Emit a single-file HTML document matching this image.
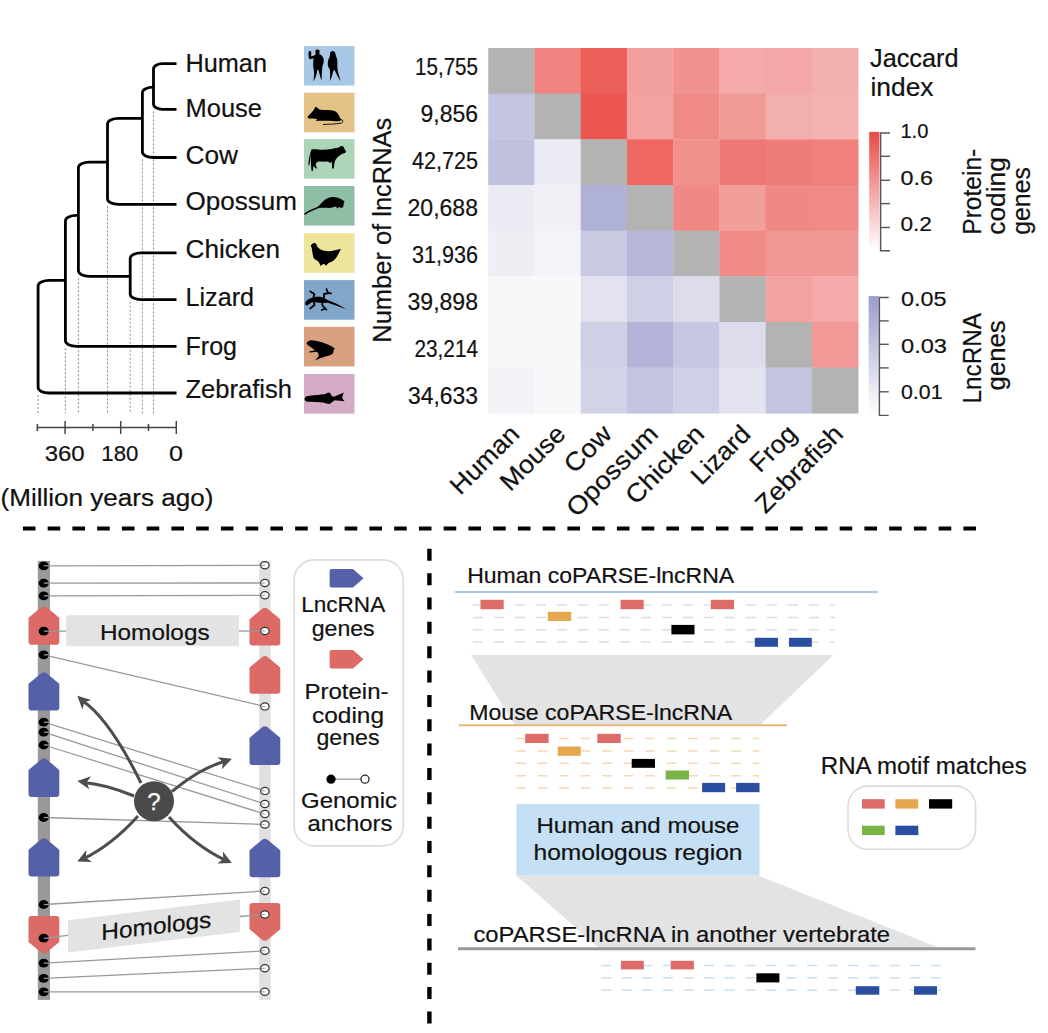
<!DOCTYPE html><html><head><meta charset="utf-8"><style>
html,body{margin:0;padding:0;background:#fff;width:1048px;height:1033px;overflow:hidden}
svg{display:block}
text{font-family:"Liberation Sans", sans-serif;fill:#111;stroke:#111;stroke-width:0.2px}
</style></head><body>
<svg width="1048" height="1033" viewBox="0 0 1048 1033">
<line x1="38.1" y1="395.0" x2="38.1" y2="413.5" stroke="#8a8a8a" stroke-width="1" stroke-dasharray="2,2"/>
<line x1="65.4" y1="348.3" x2="65.4" y2="413.5" stroke="#8a8a8a" stroke-width="1" stroke-dasharray="2,2"/>
<line x1="78.4" y1="278.3" x2="78.4" y2="413.5" stroke="#8a8a8a" stroke-width="1" stroke-dasharray="2,2"/>
<line x1="107.5" y1="206.4" x2="107.5" y2="413.5" stroke="#8a8a8a" stroke-width="1" stroke-dasharray="2,2"/>
<line x1="130.2" y1="301.7" x2="130.2" y2="413.5" stroke="#8a8a8a" stroke-width="1" stroke-dasharray="2,2"/>
<line x1="142.4" y1="159.5" x2="142.4" y2="413.5" stroke="#8a8a8a" stroke-width="1" stroke-dasharray="2,2"/>
<line x1="153.5" y1="111.4" x2="153.5" y2="413.5" stroke="#8a8a8a" stroke-width="1" stroke-dasharray="2,2"/>
<path d="M176.5,63.6 H162.5 C157.53,63.6 153.5,66.06 153.5,69.1 V103.9 C153.5,106.94 157.53,109.4 162.5,109.4 H176.5" fill="none" stroke="#000" stroke-width="2.8"/>
<path d="M153.5,87.2 H153.4 C147.32,87.2 142.4,89.66 142.4,92.7 V152.0 C142.4,155.04 147.32,157.5 153.4,157.5 H176.5" fill="none" stroke="#000" stroke-width="2.8"/>
<path d="M142.4,118.4 H118.5 C112.42,118.4 107.5,120.86 107.5,123.9 V198.9 C107.5,201.94 112.42,204.4 118.5,204.4 H176.5" fill="none" stroke="#000" stroke-width="2.8"/>
<path d="M176.5,252.8 H141.2 C135.12,252.8 130.2,255.26 130.2,258.3 V294.2 C130.2,297.24 135.12,299.7 141.2,299.7 H176.5" fill="none" stroke="#000" stroke-width="2.8"/>
<path d="M107.5,162.2 H89.4 C83.32,162.2 78.4,164.66 78.4,167.7 V270.8 C78.4,273.84 83.32,276.3 89.4,276.3 H130.2" fill="none" stroke="#000" stroke-width="2.8"/>
<path d="M78.4,215.4 H76.4 C70.32,215.4 65.4,217.86 65.4,220.9 V340.8 C65.4,343.84 70.32,346.3 76.4,346.3 H176.5" fill="none" stroke="#000" stroke-width="2.8"/>
<path d="M65.4,280.4 H49.1 C43.02,280.4 38.1,282.86 38.1,285.9 V387.5 C38.1,390.54 43.02,393.0 49.1,393.0 H176.5" fill="none" stroke="#000" stroke-width="2.8"/>
<g stroke="#444" stroke-width="1.5" fill="none">
<line x1="37.3" y1="427.6" x2="176.3" y2="427.6"/>
<line x1="37.3" y1="424" x2="37.3" y2="431"/>
<line x1="65.1" y1="421" x2="65.1" y2="434"/>
<line x1="92.9" y1="424" x2="92.9" y2="431"/>
<line x1="120.7" y1="421" x2="120.7" y2="434"/>
<line x1="148.5" y1="424" x2="148.5" y2="431"/>
<line x1="176.3" y1="421" x2="176.3" y2="434"/>
</g>
<text x="64.7" y="461" font-size="22" text-anchor="middle" textLength="40" lengthAdjust="spacingAndGlyphs" >360</text>
<text x="119.8" y="461" font-size="22" text-anchor="middle" textLength="37" lengthAdjust="spacingAndGlyphs" >180</text>
<text x="176" y="461" font-size="22" text-anchor="middle" textLength="14" lengthAdjust="spacingAndGlyphs" >0</text>
<text x="0.5" y="505.5" font-size="23.5" text-anchor="start" textLength="213" lengthAdjust="spacingAndGlyphs" >(Million years ago)</text>
<text x="185.5" y="71.7" font-size="26" text-anchor="start" textLength="81.5" lengthAdjust="spacingAndGlyphs" >Human</text>
<text x="185.5" y="117" font-size="26" text-anchor="start" textLength="76.5" lengthAdjust="spacingAndGlyphs" >Mouse</text>
<text x="185.5" y="164" font-size="26" text-anchor="start" textLength="52.5" lengthAdjust="spacingAndGlyphs" >Cow</text>
<text x="185.5" y="209.8" font-size="26" text-anchor="start" textLength="111.5" lengthAdjust="spacingAndGlyphs" >Opossum</text>
<text x="185.5" y="258.2" font-size="26" text-anchor="start" textLength="94.5" lengthAdjust="spacingAndGlyphs" >Chicken</text>
<text x="185.5" y="306.3" font-size="26" text-anchor="start" textLength="68.5" lengthAdjust="spacingAndGlyphs" >Lizard</text>
<text x="185.5" y="354.5" font-size="26" text-anchor="start" textLength="51.5" lengthAdjust="spacingAndGlyphs" >Frog</text>
<text x="185.5" y="398.1" font-size="26" text-anchor="start" textLength="106.5" lengthAdjust="spacingAndGlyphs" >Zebrafish</text>
<rect x="304" y="46" width="50.5" height="39.6" fill="#a7c9e5"/>
<g transform="translate(304,46)" fill="#000"><path d="M13.6,3.4 C15.3,3.4 16,4.6 15.6,6 C15.4,7 15,7.5 15.5,8 C17.8,9 19.8,11.5 19.8,14.5 C19.8,17 18.8,19 18.3,21 C17.9,25 17.8,30 17.6,34.5 C16.5,32 15.6,28 14.6,24.5 C14.2,23.2 13.6,23.2 13.3,24.5 C12.6,28 11.8,32 9.3,35.5 C10.3,31 10.3,26 9.5,22.5 C9,19.5 9,15 9.6,12 C8.5,12.5 7,13.5 5.6,13.2 C4.6,12.5 4.5,9 4.5,7 C4.5,5.4 5.2,4.8 6,4.9 C7.2,5 7.5,6 7.3,7.3 C7,8.5 7,9.8 7.5,10.2 C9,10 10.5,9.5 11.8,8.2 C11.5,7.5 11.2,6.5 11.3,5.3 C11.5,4 12.3,3.4 13.6,3.4 Z"/><path d="M28.6,4.9 C30.5,4.9 31.4,6.5 31.6,8.5 C31.8,9.8 32.5,11 33,12.8 C33.6,15 33.5,18 33.3,21 C33.5,25 35,30 36.8,35 C35,33.5 33,29 31,25 C30.5,24 30,23.5 29.5,24.5 C28.5,27.5 28,31 25.8,35.3 C26.2,31 26.5,26 25.5,22.5 C24.3,22 23.8,20 23.8,18 C23.8,15 24.3,13 25.6,11 C26,10 26,9 26,7.8 C26.2,5.8 27.3,4.9 28.6,4.9 Z"/></g>
<rect x="304" y="92.7" width="50.5" height="39.6" fill="#e3c287"/>
<g transform="translate(304,92)" fill="#000"><path d="M3.6,24.8 C6,22 9,19.5 10.5,16.5 C11,15 12,14.8 13,15.5 C14,16.3 15,17.5 16.5,17.8 C20,18 26,18 30,18.8 C33,19.5 34.5,22.5 35.5,25 C36,26.5 37.5,27 38,28 C36,29.5 33,29.3 29,29 C24,28.8 18,28.8 14.5,28.8 C13,29 12,29 11.8,28.6 C12.5,28 13,27.5 13.3,27.2 C10.5,26.5 8,26.5 5.5,26.5 C4,26.4 3.2,25.5 3.6,24.8 Z"/><path d="M37.3,27.5 C39.5,28.5 39.5,30.5 37,31.2 C32,32 25,32.3 19,32.5" fill="none" stroke="#000" stroke-width="0.9"/></g>
<rect x="304" y="139.1" width="50.5" height="39.6" fill="#acd4b7"/>
<g transform="translate(304,139)" fill="#000"><path d="M7.6,10.5 C10,9.8 15,10.8 19,10.8 C25,10.5 30,9.5 34,8.8 C35.5,8 36.5,7 38,7 C39.5,7.2 40,8.5 40.5,10 C41,11 42.3,12 42,13 C41,14 39.5,14.5 38.2,15 C36,16 34,17.5 32.5,19.5 C31,21 30.8,23 30.3,25 C30,27 30,28.5 29.8,29.6 L28.2,29.6 C28,27 28,24.5 27.7,22.8 C27,23.5 26.5,24 25.8,24 C25,23 24,22.5 22.5,22.6 C20,22.8 17,22.3 14.5,22.5 C13,23 12,24 11.6,25.3 C12,27 12.5,28.3 13.2,29.4 L11.8,29.6 C11,28.5 10.2,27.3 9.6,26.5 C9.3,28.5 9.2,30.5 8.8,32.2 L7.5,31.5 C7.2,29 7,25 6.8,21 C6.7,18.5 6.8,16 7,14 C6.5,17 6,22 5.4,26.3 L4.4,26 C4.6,22 5,18 6,15.5 C6.5,13 7,11.5 7.6,10.5 Z"/></g>
<rect x="304" y="186" width="50.5" height="39.6" fill="#8fbea7"/>
<g transform="translate(304,186)" fill="#000"><path d="M0,28 C3,25 7,23.5 11,22 C14,20.8 16.5,18.5 19,15.5 C22,12.5 25,11 29,11 C33,11 36.5,12.5 39,14.5 L40.8,15.3 C40,16 39.6,17 39.7,18.5 C39.5,20.5 38.5,22 37.5,22 C36.5,22 35.8,21.5 35.2,20.8 C34.5,21.5 34,22.3 33.5,22.5 C33,21.8 32,21 31,20.6 C29.5,21.5 27.5,22 25.5,22 C22,21.8 18,21.8 15,22 C11,23.3 6,25.5 0.8,29 Z"/></g>
<rect x="304" y="233.2" width="50.5" height="39.6" fill="#ede59c"/>
<g transform="translate(304,233)" fill="#000"><path d="M6.9,12.3 C7.5,11 9,10 10.5,10 C11.8,10 12.5,10.8 12.8,12.5 C13.5,14.5 15.5,16.3 19,17.5 C23,18.5 27,18.5 30,17.5 C32.5,16.8 35,16 37,16.2 C35.5,18.5 34.5,21 33,23.5 C31.5,26 29.5,27.8 27.5,28.8 C25,29.8 23.5,30.5 22.3,32.8 C21.5,32 20.5,31 19.5,31 C18.5,31.2 17.5,32 16.5,33 C16,31 15,29 13.8,28 C12,27 10,26 9.4,24.5 C8.8,22 8.3,19 8,16.5 C7.8,15 7.5,13.8 6.9,13.2 Z"/></g>
<rect x="304" y="280.1" width="50.5" height="39.6" fill="#80a7ca"/>
<g transform="translate(304,280)" fill="#000"><path d="M1.2,23.5 C1.5,21 3.5,19.5 6,18.5 C9,17 13,16.5 16,16.8 C19,17.2 21,18.5 23.5,20 C29,22 36,25 42,29.3 C36,27 29,24.5 24,22.8 C21.5,22.5 19.5,22.8 17.5,23 C14,22.5 10.5,22.2 8,22.3 C6,23 4.5,25 2.5,25.6 C1.6,25.3 1.2,24.5 1.2,23.5 Z"/><g fill="none" stroke="#000" stroke-width="1.8" stroke-linecap="round" stroke-linejoin="round"><path d="M9.5,17.2 L10.5,14 L6.2,11.5"/><path d="M20,18 L20,14 L24.3,13.2"/><path d="M22.5,9.2 L24,13 L27,13.4"/><path d="M18.5,22.5 L18.2,25 L21,28.5 L17.8,30"/><path d="M21,28.5 L22.4,29.6"/><path d="M10,22.5 L10.5,25 L6.2,28.5"/></g></g>
<rect x="304" y="326.8" width="50.5" height="39.6" fill="#d9a080"/>
<g transform="translate(304,327)" fill="#000"><path d="M2.6,16.2 C3.5,14 5.5,13.3 7.5,13.3 C11,13.5 14,14.2 17,15 C20,16 23.5,17.2 26,18.5 C28,19.5 29.5,20.5 30.8,21.5 C29.8,22.5 29.5,24 29.3,25.5 C29,27 27,28 25,28.5 C21.5,29.5 18,30.5 15.5,31.5 C14,32.3 12.5,33 11.3,33.5 C12.5,31.5 14,30 14.8,29 C14.5,27.5 14.3,26.5 14,25.5 C12.5,24.5 11.5,24.5 10.5,25 C9,25.3 6.5,25.5 4.5,25.3 C5.5,24.5 6.5,24 7.5,24 C8.8,24 10,23.5 10.8,23.3 C9.5,22 7.5,20.5 5.5,19.2 C4,18.3 2.8,17.3 2.6,16.2 Z"/></g>
<rect x="304" y="374" width="50.5" height="39.6" fill="#d3abc4"/>
<g transform="translate(304,374)" fill="#000"><path d="M0.5,24.8 C1,22.5 3,22 6,21.7 C11,21.2 16,20.8 20,20.3 C22,19.8 23.5,18.4 25,18.4 C26.5,18.6 27,20.5 27.5,21.8 C28.5,22.7 29.5,22.8 30.5,22.5 C33.5,21.2 37,19.5 40,18.4 C39.2,20 38.3,21.8 38.3,23.4 C38.5,25 40,26.2 40.6,27.3 C37.5,27.3 34,26.5 30.5,26.3 C29,27.5 27,29.5 25.5,30 C23.5,30 21.5,29 19,28.5 C14,28 8,28 3.5,27.8 C1.5,27.5 0.5,26.2 0.5,24.8 Z"/></g>
<rect x="488.20" y="48.00" width="46.55" height="45.96" fill="#b3b3b3"/>
<rect x="534.45" y="48.00" width="46.55" height="45.96" fill="#ef8380"/>
<rect x="580.70" y="48.00" width="46.55" height="45.96" fill="#ea6058"/>
<rect x="626.95" y="48.00" width="46.55" height="45.96" fill="#f2a09d"/>
<rect x="673.20" y="48.00" width="46.55" height="45.96" fill="#f09290"/>
<rect x="719.45" y="48.00" width="46.55" height="45.96" fill="#f3aaa9"/>
<rect x="765.70" y="48.00" width="46.55" height="45.96" fill="#f3a8a7"/>
<rect x="811.95" y="48.00" width="46.55" height="45.96" fill="#f3b0af"/>
<rect x="488.20" y="93.66" width="46.55" height="45.96" fill="#c4c5e1"/>
<rect x="534.45" y="93.66" width="46.55" height="45.96" fill="#b3b3b3"/>
<rect x="580.70" y="93.66" width="46.55" height="45.96" fill="#eb5650"/>
<rect x="626.95" y="93.66" width="46.55" height="45.96" fill="#f2a3a1"/>
<rect x="673.20" y="93.66" width="46.55" height="45.96" fill="#f08a87"/>
<rect x="719.45" y="93.66" width="46.55" height="45.96" fill="#f09a97"/>
<rect x="765.70" y="93.66" width="46.55" height="45.96" fill="#f3afae"/>
<rect x="811.95" y="93.66" width="46.55" height="45.96" fill="#f3b1b0"/>
<rect x="488.20" y="139.32" width="46.55" height="45.96" fill="#c0c1de"/>
<rect x="534.45" y="139.32" width="46.55" height="45.96" fill="#ebebf3"/>
<rect x="580.70" y="139.32" width="46.55" height="45.96" fill="#b3b3b3"/>
<rect x="626.95" y="139.32" width="46.55" height="45.96" fill="#ee6762"/>
<rect x="673.20" y="139.32" width="46.55" height="45.96" fill="#f0918e"/>
<rect x="719.45" y="139.32" width="46.55" height="45.96" fill="#ef7773"/>
<rect x="765.70" y="139.32" width="46.55" height="45.96" fill="#ef7c78"/>
<rect x="811.95" y="139.32" width="46.55" height="45.96" fill="#ef807c"/>
<rect x="488.20" y="184.98" width="46.55" height="45.96" fill="#ebebf4"/>
<rect x="534.45" y="184.98" width="46.55" height="45.96" fill="#f0f0f6"/>
<rect x="580.70" y="184.98" width="46.55" height="45.96" fill="#b0b1d6"/>
<rect x="626.95" y="184.98" width="46.55" height="45.96" fill="#b3b3b3"/>
<rect x="673.20" y="184.98" width="46.55" height="45.96" fill="#f08986"/>
<rect x="719.45" y="184.98" width="46.55" height="45.96" fill="#f29e9b"/>
<rect x="765.70" y="184.98" width="46.55" height="45.96" fill="#f08884"/>
<rect x="811.95" y="184.98" width="46.55" height="45.96" fill="#f08a87"/>
<rect x="488.20" y="230.64" width="46.55" height="45.96" fill="#eeeff5"/>
<rect x="534.45" y="230.64" width="46.55" height="45.96" fill="#f3f3f8"/>
<rect x="580.70" y="230.64" width="46.55" height="45.96" fill="#c9c9e2"/>
<rect x="626.95" y="230.64" width="46.55" height="45.96" fill="#b5b6d8"/>
<rect x="673.20" y="230.64" width="46.55" height="45.96" fill="#b3b3b3"/>
<rect x="719.45" y="230.64" width="46.55" height="45.96" fill="#f08b88"/>
<rect x="765.70" y="230.64" width="46.55" height="45.96" fill="#f09795"/>
<rect x="811.95" y="230.64" width="46.55" height="45.96" fill="#f09896"/>
<rect x="488.20" y="276.30" width="46.55" height="45.96" fill="#f8f8fb"/>
<rect x="534.45" y="276.30" width="46.55" height="45.96" fill="#f8f8fb"/>
<rect x="580.70" y="276.30" width="46.55" height="45.96" fill="#e2e2f0"/>
<rect x="626.95" y="276.30" width="46.55" height="45.96" fill="#cfd0e5"/>
<rect x="673.20" y="276.30" width="46.55" height="45.96" fill="#dcdcec"/>
<rect x="719.45" y="276.30" width="46.55" height="45.96" fill="#b3b3b3"/>
<rect x="765.70" y="276.30" width="46.55" height="45.96" fill="#f2a3a0"/>
<rect x="811.95" y="276.30" width="46.55" height="45.96" fill="#f3aaa9"/>
<rect x="488.20" y="321.96" width="46.55" height="45.96" fill="#f8f8fb"/>
<rect x="534.45" y="321.96" width="46.55" height="45.96" fill="#f8f8fb"/>
<rect x="580.70" y="321.96" width="46.55" height="45.96" fill="#cfd0e5"/>
<rect x="626.95" y="321.96" width="46.55" height="45.96" fill="#b3b4d7"/>
<rect x="673.20" y="321.96" width="46.55" height="45.96" fill="#c6c7e2"/>
<rect x="719.45" y="321.96" width="46.55" height="45.96" fill="#dcdcec"/>
<rect x="765.70" y="321.96" width="46.55" height="45.96" fill="#b3b3b3"/>
<rect x="811.95" y="321.96" width="46.55" height="45.96" fill="#f19996"/>
<rect x="488.20" y="367.62" width="46.55" height="45.96" fill="#f2f2f7"/>
<rect x="534.45" y="367.62" width="46.55" height="45.96" fill="#f8f8fb"/>
<rect x="580.70" y="367.62" width="46.55" height="45.96" fill="#d2d3e7"/>
<rect x="626.95" y="367.62" width="46.55" height="45.96" fill="#c4c5e1"/>
<rect x="673.20" y="367.62" width="46.55" height="45.96" fill="#cfd0e5"/>
<rect x="719.45" y="367.62" width="46.55" height="45.96" fill="#e2e2f0"/>
<rect x="765.70" y="367.62" width="46.55" height="45.96" fill="#c4c5e1"/>
<rect x="811.95" y="367.62" width="46.55" height="45.96" fill="#b3b3b3"/>
<text x="478" y="75.3" font-size="23.5" text-anchor="end" textLength="63" lengthAdjust="spacingAndGlyphs" >15,755</text>
<text x="478" y="122.25" font-size="23.5" text-anchor="end" textLength="57.5" lengthAdjust="spacingAndGlyphs" >9,856</text>
<text x="478" y="169.2" font-size="23.5" text-anchor="end" textLength="66" lengthAdjust="spacingAndGlyphs" >42,725</text>
<text x="478" y="216.15000000000003" font-size="23.5" text-anchor="end" textLength="70.5" lengthAdjust="spacingAndGlyphs" >20,688</text>
<text x="478" y="263.1" font-size="23.5" text-anchor="end" textLength="66" lengthAdjust="spacingAndGlyphs" >31,936</text>
<text x="478" y="310.05" font-size="23.5" text-anchor="end" textLength="70.5" lengthAdjust="spacingAndGlyphs" >39,898</text>
<text x="478" y="357.00000000000006" font-size="23.5" text-anchor="end" textLength="63.5" lengthAdjust="spacingAndGlyphs" >23,214</text>
<text x="478" y="403.95000000000005" font-size="23.5" text-anchor="end" textLength="70" lengthAdjust="spacingAndGlyphs" >34,633</text>
<text x="0" y="0" font-size="25" text-anchor="middle" textLength="225" lengthAdjust="spacingAndGlyphs" transform="translate(391.4,230.2) rotate(-90)">Number of lncRNAs</text>
<text x="0" y="0" font-size="25.5" text-anchor="end" textLength="85.575" lengthAdjust="spacingAndGlyphs" transform="translate(520.825,435.5) rotate(-45)">Human</text>
<text x="0" y="0" font-size="25.5" text-anchor="end" textLength="80.325" lengthAdjust="spacingAndGlyphs" transform="translate(567.075,435.5) rotate(-45)">Mouse</text>
<text x="0" y="0" font-size="25.5" text-anchor="end" textLength="55.125" lengthAdjust="spacingAndGlyphs" transform="translate(613.325,435.5) rotate(-45)">Cow</text>
<text x="0" y="0" font-size="25.5" text-anchor="end" textLength="117.075" lengthAdjust="spacingAndGlyphs" transform="translate(659.575,435.5) rotate(-45)">Opossum</text>
<text x="0" y="0" font-size="25.5" text-anchor="end" textLength="99.22500000000001" lengthAdjust="spacingAndGlyphs" transform="translate(705.825,435.5) rotate(-45)">Chicken</text>
<text x="0" y="0" font-size="25.5" text-anchor="end" textLength="71.925" lengthAdjust="spacingAndGlyphs" transform="translate(752.075,435.5) rotate(-45)">Lizard</text>
<text x="0" y="0" font-size="25.5" text-anchor="end" textLength="54.075" lengthAdjust="spacingAndGlyphs" transform="translate(798.325,435.5) rotate(-45)">Frog</text>
<text x="0" y="0" font-size="25.5" text-anchor="end" textLength="111.825" lengthAdjust="spacingAndGlyphs" transform="translate(844.575,435.5) rotate(-45)">Zebrafish</text>
<text x="870" y="67.2" font-size="25" text-anchor="start" textLength="88.5" lengthAdjust="spacingAndGlyphs" >Jaccard</text>
<text x="870.5" y="96.1" font-size="25" text-anchor="start" textLength="63" lengthAdjust="spacingAndGlyphs" >index</text>
<defs><linearGradient id="gr" x1="0" y1="0" x2="0" y2="1"><stop offset="0" stop-color="#e84a47"/><stop offset="1" stop-color="#e84a47" stop-opacity="0"/></linearGradient>
<linearGradient id="gb" x1="0" y1="0" x2="0" y2="1"><stop offset="0" stop-color="#9a9dcb"/><stop offset="1" stop-color="#9a9dcb" stop-opacity="0"/></linearGradient></defs>
<rect x="869.2" y="131.9" width="10.2" height="118.5" fill="url(#gr)"/>
<rect x="868.6" y="296.1" width="10.2" height="118" fill="url(#gb)"/>
<g stroke="#555" stroke-width="1.4" fill="none">
<path d="M890,133 H880.6 V250.8 H890"/>
<line x1="880.6" y1="156.3" x2="890" y2="156.3"/>
<line x1="880.6" y1="180.3" x2="890" y2="180.3"/>
<line x1="880.6" y1="203.6" x2="890" y2="203.6"/>
<line x1="880.6" y1="227.5" x2="890" y2="227.5"/>
<path d="M888.7,297.5 H879.4 V415.4 H888.7"/>
<line x1="879.4" y1="320.9" x2="888.7" y2="320.9"/>
<line x1="879.4" y1="344.3" x2="888.7" y2="344.3"/>
<line x1="879.4" y1="367.9" x2="888.7" y2="367.9"/>
<line x1="879.4" y1="391.8" x2="888.7" y2="391.8"/>
</g>
<text x="900.4" y="137.8" font-size="20.5" text-anchor="start" textLength="28" lengthAdjust="spacingAndGlyphs" >1.0</text>
<text x="900.4" y="185" font-size="20.5" text-anchor="start" textLength="32.5" lengthAdjust="spacingAndGlyphs" >0.6</text>
<text x="900.4" y="231.4" font-size="20.5" text-anchor="start" textLength="31.5" lengthAdjust="spacingAndGlyphs" >0.2</text>
<text x="901" y="305.6" font-size="20.5" text-anchor="start" textLength="45.5" lengthAdjust="spacingAndGlyphs" >0.05</text>
<text x="901" y="353.4" font-size="20.5" text-anchor="start" textLength="46" lengthAdjust="spacingAndGlyphs" >0.03</text>
<text x="901" y="398.8" font-size="20.5" text-anchor="start" textLength="41.5" lengthAdjust="spacingAndGlyphs" >0.01</text>
<text x="0" y="0" font-size="25.5" text-anchor="start" textLength="86" lengthAdjust="spacingAndGlyphs" transform="translate(980.5,234.7) rotate(-90)">Protein-</text>
<text x="0" y="0" font-size="25.5" text-anchor="start" textLength="77.5" lengthAdjust="spacingAndGlyphs" transform="translate(1005.0,234.7) rotate(-90)">coding</text>
<text x="0" y="0" font-size="25.5" text-anchor="start" textLength="67.5" lengthAdjust="spacingAndGlyphs" transform="translate(1029.5,234.7) rotate(-90)">genes</text>
<text x="0" y="0" font-size="25.5" text-anchor="middle" textLength="90.5" lengthAdjust="spacingAndGlyphs" transform="translate(980.5,358.3) rotate(-90)">LncRNA</text>
<text x="0" y="0" font-size="25.5" text-anchor="middle" textLength="70" lengthAdjust="spacingAndGlyphs" transform="translate(1005.0,355.4) rotate(-90)">genes</text>
<line x1="22.9" y1="528.6" x2="976" y2="528.6" stroke="#000" stroke-width="4" stroke-dasharray="12.6,12.15"/>
<line x1="429.4" y1="548.8" x2="429.4" y2="1024" stroke="#000" stroke-width="4.4" stroke-dasharray="12,12.35"/>
<rect x="37.8" y="560.9" width="12.2" height="439" fill="#999"/>
<rect x="259.09999999999997" y="560.9" width="11.6" height="439" fill="#e0e0e0"/>
<path d="M40.90,608.70 Q43.9,605.60 46.90,608.70 L58.3,618.2 V641.7 Q58.3,643.7 56.3,643.7 H31.5 Q29.5,643.7 29.5,641.7 V618.2 Z" fill="#dc6a66" stroke="#dc6a66" stroke-width="2" stroke-linejoin="round"/>
<path d="M40.90,674.70 Q43.9,671.60 46.90,674.70 L58.3,684.2 V707.5 Q58.3,709.5 56.3,709.5 H31.5 Q29.5,709.5 29.5,707.5 V684.2 Z" fill="#5461a8" stroke="#5461a8" stroke-width="2" stroke-linejoin="round"/>
<path d="M40.90,760.90 Q43.9,757.80 46.90,760.90 L58.3,770.4 V793.9 Q58.3,795.9 56.3,795.9 H31.5 Q29.5,795.9 29.5,793.9 V770.4 Z" fill="#5461a8" stroke="#5461a8" stroke-width="2" stroke-linejoin="round"/>
<path d="M40.90,840.70 Q43.9,837.60 46.90,840.70 L58.3,850.2 V873.4 Q58.3,875.4 56.3,875.4 H31.5 Q29.5,875.4 29.5,873.4 V850.2 Z" fill="#5461a8" stroke="#5461a8" stroke-width="2" stroke-linejoin="round"/>
<path d="M40.90,951.10 Q43.9,954.20 46.90,951.10 L58.3,941.6 V918.9 Q58.3,916.9 56.3,916.9 H31.5 Q29.5,916.9 29.5,918.9 V941.6 Z" fill="#dc6a66" stroke="#dc6a66" stroke-width="2" stroke-linejoin="round"/>
<path d="M261.90,610.30 Q264.9,607.20 267.90,610.30 L279.29999999999995,619.8 V642.4 Q279.29999999999995,644.4 277.29999999999995,644.4 H252.49999999999997 Q250.49999999999997,644.4 250.49999999999997,642.4 V619.8 Z" fill="#dc6a66" stroke="#dc6a66" stroke-width="2" stroke-linejoin="round"/>
<path d="M261.90,658.50 Q264.9,655.40 267.90,658.50 L279.29999999999995,668.0 V690.8 Q279.29999999999995,692.8 277.29999999999995,692.8 H252.49999999999997 Q250.49999999999997,692.8 250.49999999999997,690.8 V668.0 Z" fill="#dc6a66" stroke="#dc6a66" stroke-width="2" stroke-linejoin="round"/>
<path d="M261.90,728.80 Q264.9,725.70 267.90,728.80 L279.29999999999995,738.3 V762.1 Q279.29999999999995,764.1 277.29999999999995,764.1 H252.49999999999997 Q250.49999999999997,764.1 250.49999999999997,762.1 V738.3 Z" fill="#5461a8" stroke="#5461a8" stroke-width="2" stroke-linejoin="round"/>
<path d="M261.90,841.20 Q264.9,838.10 267.90,841.20 L279.29999999999995,850.7 V874.3 Q279.29999999999995,876.3 277.29999999999995,876.3 H252.49999999999997 Q250.49999999999997,876.3 250.49999999999997,874.3 V850.7 Z" fill="#5461a8" stroke="#5461a8" stroke-width="2" stroke-linejoin="round"/>
<path d="M261.90,938.20 Q264.9,941.30 267.90,938.20 L279.29999999999995,928.7 V906.0 Q279.29999999999995,904 277.29999999999995,904 H252.49999999999997 Q250.49999999999997,904 250.49999999999997,906.0 V928.7 Z" fill="#dc6a66" stroke="#dc6a66" stroke-width="2" stroke-linejoin="round"/>
<rect x="66.2" y="615.2" width="172.8" height="31" fill="#e3e3e3"/>
<text x="154.8" y="640.3" font-size="22.8" text-anchor="middle" textLength="109.6" lengthAdjust="spacingAndGlyphs" >Homologs</text>
<g transform="matrix(1,-0.1198,0,1,0,0)"><rect x="68" y="928.3" width="172" height="32.4" fill="#e3e3e3"/>
<text x="156.3" y="952.5" font-size="22.8" text-anchor="middle" textLength="110" lengthAdjust="spacingAndGlyphs" >Homologs</text>
</g>
<line x1="43.9" y1="565.8" x2="264.9" y2="565.3" stroke="#999" stroke-width="1.3"/>
<line x1="43.9" y1="583.1" x2="264.9" y2="583" stroke="#999" stroke-width="1.3"/>
<line x1="43.9" y1="595.8" x2="264.9" y2="595.3" stroke="#999" stroke-width="1.3"/>
<line x1="43.9" y1="631.1" x2="66.2" y2="631.1" stroke="#999" stroke-width="1.3"/>
<line x1="239" y1="631" x2="264.9" y2="631" stroke="#999" stroke-width="1.3"/>
<line x1="43.9" y1="654.8" x2="264.9" y2="706.4" stroke="#999" stroke-width="1.3"/>
<line x1="43.9" y1="722.2" x2="264.9" y2="790.9" stroke="#999" stroke-width="1.3"/>
<line x1="43.9" y1="732.2" x2="264.9" y2="804" stroke="#999" stroke-width="1.3"/>
<line x1="43.9" y1="745" x2="264.9" y2="814" stroke="#999" stroke-width="1.3"/>
<line x1="43.9" y1="817.5" x2="264.9" y2="824.5" stroke="#999" stroke-width="1.3"/>
<line x1="43.9" y1="904.5" x2="264.9" y2="891" stroke="#999" stroke-width="1.3"/>
<line x1="43.9" y1="938.2" x2="68" y2="935.4000000000001" stroke="#999" stroke-width="1.3"/>
<line x1="240" y1="916.5" x2="264.9" y2="914.5" stroke="#999" stroke-width="1.3"/>
<line x1="43.9" y1="963.1" x2="264.9" y2="950.8" stroke="#999" stroke-width="1.3"/>
<line x1="43.9" y1="978.3" x2="264.9" y2="968.3" stroke="#999" stroke-width="1.3"/>
<line x1="43.9" y1="991.8" x2="264.9" y2="991.8" stroke="#999" stroke-width="1.3"/>
<ellipse cx="43.699999999999996" cy="565.8" rx="5.1" ry="4.4" fill="#000"/>
<line x1="43.9" y1="565.8" x2="48.9" y2="565.8" stroke="#999" stroke-width="1.3"/>
<ellipse cx="43.699999999999996" cy="583.1" rx="5.1" ry="4.4" fill="#000"/>
<line x1="43.9" y1="583.1" x2="48.9" y2="583.1" stroke="#999" stroke-width="1.3"/>
<ellipse cx="43.699999999999996" cy="595.8" rx="5.1" ry="4.4" fill="#000"/>
<line x1="43.9" y1="595.8" x2="48.9" y2="595.8" stroke="#999" stroke-width="1.3"/>
<ellipse cx="43.699999999999996" cy="631.1" rx="5.1" ry="4.4" fill="#000"/>
<line x1="43.9" y1="631.1" x2="48.9" y2="631.1" stroke="#999" stroke-width="1.3"/>
<ellipse cx="43.699999999999996" cy="654.8" rx="5.1" ry="4.4" fill="#000"/>
<line x1="43.9" y1="654.8" x2="48.9" y2="654.8" stroke="#999" stroke-width="1.3"/>
<ellipse cx="43.699999999999996" cy="722.2" rx="5.1" ry="4.4" fill="#000"/>
<line x1="43.9" y1="722.2" x2="48.9" y2="722.2" stroke="#999" stroke-width="1.3"/>
<ellipse cx="43.699999999999996" cy="732.2" rx="5.1" ry="4.4" fill="#000"/>
<line x1="43.9" y1="732.2" x2="48.9" y2="732.2" stroke="#999" stroke-width="1.3"/>
<ellipse cx="43.699999999999996" cy="745" rx="5.1" ry="4.4" fill="#000"/>
<line x1="43.9" y1="745" x2="48.9" y2="745" stroke="#999" stroke-width="1.3"/>
<ellipse cx="43.699999999999996" cy="817.5" rx="5.1" ry="4.4" fill="#000"/>
<line x1="43.9" y1="817.5" x2="48.9" y2="817.5" stroke="#999" stroke-width="1.3"/>
<ellipse cx="43.699999999999996" cy="904.5" rx="5.1" ry="4.4" fill="#000"/>
<line x1="43.9" y1="904.5" x2="48.9" y2="904.5" stroke="#999" stroke-width="1.3"/>
<ellipse cx="43.699999999999996" cy="938.2" rx="5.1" ry="4.4" fill="#000"/>
<line x1="43.9" y1="938.2" x2="48.9" y2="938.2" stroke="#999" stroke-width="1.3"/>
<ellipse cx="43.699999999999996" cy="963.1" rx="5.1" ry="4.4" fill="#000"/>
<line x1="43.9" y1="963.1" x2="48.9" y2="963.1" stroke="#999" stroke-width="1.3"/>
<ellipse cx="43.699999999999996" cy="978.3" rx="5.1" ry="4.4" fill="#000"/>
<line x1="43.9" y1="978.3" x2="48.9" y2="978.3" stroke="#999" stroke-width="1.3"/>
<ellipse cx="43.699999999999996" cy="991.8" rx="5.1" ry="4.4" fill="#000"/>
<line x1="43.9" y1="991.8" x2="48.9" y2="991.8" stroke="#999" stroke-width="1.3"/>
<ellipse cx="264.9" cy="565.3" rx="4.2" ry="3.6" fill="#fff" stroke="#333" stroke-width="1.2"/>
<line x1="260.9" y1="565.3" x2="264.9" y2="565.3" stroke="#aaa" stroke-width="1.2"/>
<ellipse cx="264.9" cy="583" rx="4.2" ry="3.6" fill="#fff" stroke="#333" stroke-width="1.2"/>
<line x1="260.9" y1="583" x2="264.9" y2="583" stroke="#aaa" stroke-width="1.2"/>
<ellipse cx="264.9" cy="595.3" rx="4.2" ry="3.6" fill="#fff" stroke="#333" stroke-width="1.2"/>
<line x1="260.9" y1="595.3" x2="264.9" y2="595.3" stroke="#aaa" stroke-width="1.2"/>
<ellipse cx="264.9" cy="631" rx="4.2" ry="3.6" fill="#fff" stroke="#333" stroke-width="1.2"/>
<line x1="260.9" y1="631" x2="264.9" y2="631" stroke="#aaa" stroke-width="1.2"/>
<ellipse cx="264.9" cy="706.4" rx="4.2" ry="3.6" fill="#fff" stroke="#333" stroke-width="1.2"/>
<line x1="260.9" y1="706.4" x2="264.9" y2="706.4" stroke="#aaa" stroke-width="1.2"/>
<ellipse cx="264.9" cy="790.9" rx="4.2" ry="3.6" fill="#fff" stroke="#333" stroke-width="1.2"/>
<line x1="260.9" y1="790.9" x2="264.9" y2="790.9" stroke="#aaa" stroke-width="1.2"/>
<ellipse cx="264.9" cy="804" rx="4.2" ry="3.6" fill="#fff" stroke="#333" stroke-width="1.2"/>
<line x1="260.9" y1="804" x2="264.9" y2="804" stroke="#aaa" stroke-width="1.2"/>
<ellipse cx="264.9" cy="814" rx="4.2" ry="3.6" fill="#fff" stroke="#333" stroke-width="1.2"/>
<line x1="260.9" y1="814" x2="264.9" y2="814" stroke="#aaa" stroke-width="1.2"/>
<ellipse cx="264.9" cy="824.5" rx="4.2" ry="3.6" fill="#fff" stroke="#333" stroke-width="1.2"/>
<line x1="260.9" y1="824.5" x2="264.9" y2="824.5" stroke="#aaa" stroke-width="1.2"/>
<ellipse cx="264.9" cy="891" rx="4.2" ry="3.6" fill="#fff" stroke="#333" stroke-width="1.2"/>
<line x1="260.9" y1="891" x2="264.9" y2="891" stroke="#aaa" stroke-width="1.2"/>
<ellipse cx="264.9" cy="914.5" rx="4.2" ry="3.6" fill="#fff" stroke="#333" stroke-width="1.2"/>
<line x1="260.9" y1="914.5" x2="264.9" y2="914.5" stroke="#aaa" stroke-width="1.2"/>
<ellipse cx="264.9" cy="950.8" rx="4.2" ry="3.6" fill="#fff" stroke="#333" stroke-width="1.2"/>
<line x1="260.9" y1="950.8" x2="264.9" y2="950.8" stroke="#aaa" stroke-width="1.2"/>
<ellipse cx="264.9" cy="968.3" rx="4.2" ry="3.6" fill="#fff" stroke="#333" stroke-width="1.2"/>
<line x1="260.9" y1="968.3" x2="264.9" y2="968.3" stroke="#aaa" stroke-width="1.2"/>
<ellipse cx="264.9" cy="991.8" rx="4.2" ry="3.6" fill="#fff" stroke="#333" stroke-width="1.2"/>
<line x1="260.9" y1="991.8" x2="264.9" y2="991.8" stroke="#aaa" stroke-width="1.2"/>
<path d="M141,783 Q110,720 83,701" fill="none" stroke="#4d4d4d" stroke-width="3"/>
<path d="M0,0 L-13,-6.5 L-9.5,0 L-13,6.5 Z" fill="#4d4d4d" transform="translate(77.3,695.8) rotate(-137)"/>
<path d="M134,796 Q105,784 83,782.5" fill="none" stroke="#4d4d4d" stroke-width="3"/>
<path d="M0,0 L-13,-6.5 L-9.5,0 L-13,6.5 Z" fill="#4d4d4d" transform="translate(77.3,781) rotate(-172)"/>
<path d="M171.8,791.7 Q200,768 226,761" fill="none" stroke="#4d4d4d" stroke-width="3"/>
<path d="M0,0 L-13,-6.5 L-9.5,0 L-13,6.5 Z" fill="#4d4d4d" transform="translate(231.9,758.8) rotate(-20)"/>
<path d="M138,816 Q112,845 83,859" fill="none" stroke="#4d4d4d" stroke-width="3"/>
<path d="M0,0 L-13,-6.5 L-9.5,0 L-13,6.5 Z" fill="#4d4d4d" transform="translate(77.3,861.5) rotate(155)"/>
<path d="M169,817 Q195,846 226,860.5" fill="none" stroke="#4d4d4d" stroke-width="3"/>
<path d="M0,0 L-13,-6.5 L-9.5,0 L-13,6.5 Z" fill="#4d4d4d" transform="translate(231.9,863) rotate(25)"/>
<circle cx="154" cy="801.2" r="20" fill="#4a4a4a"/>
<text x="154" y="810" font-size="24" text-anchor="middle" style="fill:#fff;stroke:#fff;stroke-width:0.25px">?</text>
<rect x="294.1" y="559.9" width="109.1" height="286" rx="20" fill="#fff" stroke="#dcdcdc" stroke-width="1.6"/>
<path d="M331.6,568.9 H353.0 L363.5,578.1999999999999 L353.0,587.5 H331.6 Q329.6,587.5 329.6,585.5 V570.9 Q329.6,568.9 331.6,568.9 Z" fill="#5461a8"/>
<path d="M331.6,650 H353.0 L363.5,659.3 L353.0,668.6 H331.6 Q329.6,668.6 329.6,666.6 V652 Q329.6,650 331.6,650 Z" fill="#dc6a66"/>
<text x="343.2" y="612.2" font-size="22.5" text-anchor="middle" textLength="84" lengthAdjust="spacingAndGlyphs" >LncRNA</text>
<text x="343.2" y="635.6" font-size="22.5" text-anchor="middle" textLength="63" lengthAdjust="spacingAndGlyphs" >genes</text>
<text x="346.5" y="699.3" font-size="22.5" text-anchor="middle" textLength="84" lengthAdjust="spacingAndGlyphs" >Protein-</text>
<text x="348" y="722.7" font-size="22.5" text-anchor="middle" textLength="72" lengthAdjust="spacingAndGlyphs" >coding</text>
<text x="348" y="745.3" font-size="22.5" text-anchor="middle" textLength="63" lengthAdjust="spacingAndGlyphs" >genes</text>
<line x1="331" y1="779.2" x2="365" y2="779.2" stroke="#999" stroke-width="1.3"/>
<circle cx="331" cy="779.2" r="4.6" fill="#000"/>
<circle cx="365" cy="779.2" r="4" fill="#fff" stroke="#222" stroke-width="1.3"/>
<text x="349" y="808.3" font-size="22.5" text-anchor="middle" textLength="96" lengthAdjust="spacingAndGlyphs" >Genomic</text>
<text x="350" y="830.9" font-size="22.5" text-anchor="middle" textLength="85" lengthAdjust="spacingAndGlyphs" >anchors</text>
<path d="M471.1,655 H833.4 L759.4,725.7 H515.2 Z" fill="#e3e3e3"/>
<path d="M516.7,875.7 H759 L939.7,948 H598.9 Z" fill="#e3e3e3"/>
<text x="467.2" y="583.1" font-size="21.5" text-anchor="start" textLength="267" lengthAdjust="spacingAndGlyphs" >Human coPARSE-lncRNA</text>
<line x1="455.2" y1="592" x2="877.7" y2="592" stroke="#a4c8e8" stroke-width="2"/>
<line x1="472.7" y1="605.1" x2="835" y2="605.1" stroke="#dedede" stroke-width="1.5" stroke-dasharray="10.3,10.7"/>
<line x1="472.7" y1="617.5" x2="835" y2="617.5" stroke="#dedede" stroke-width="1.5" stroke-dasharray="10.3,10.7"/>
<line x1="472.7" y1="629.7" x2="835" y2="629.7" stroke="#dedede" stroke-width="1.5" stroke-dasharray="10.3,10.7"/>
<line x1="472.7" y1="642.1" x2="835" y2="642.1" stroke="#dedede" stroke-width="1.5" stroke-dasharray="10.3,10.7"/>
<rect x="480.5" y="599.8" width="23.19999999999999" height="9.400000000000091" fill="#dd6b67"/>
<rect x="547.8" y="611.8" width="23.40000000000009" height="9.200000000000045" fill="#e6a84e"/>
<rect x="620.6" y="599.8" width="23.100000000000023" height="9.400000000000091" fill="#dd6b67"/>
<rect x="671.4" y="624.9" width="23.100000000000023" height="9.5" fill="#000"/>
<rect x="710.8" y="599.8" width="23.200000000000045" height="9.400000000000091" fill="#dd6b67"/>
<rect x="754.8" y="637.8" width="23.200000000000045" height="9.0" fill="#2a4ea0"/>
<rect x="789" y="637.8" width="22.799999999999955" height="9.0" fill="#2a4ea0"/>
<text x="469.2" y="719.7" font-size="21.5" text-anchor="start" textLength="263" lengthAdjust="spacingAndGlyphs" >Mouse coPARSE-lncRNA</text>
<line x1="458.9" y1="725.2" x2="787" y2="725.2" stroke="#e5b877" stroke-width="2"/>
<line x1="516.3" y1="738.6" x2="759.5" y2="738.6" stroke="#f3d8b0" stroke-width="1.5" stroke-dasharray="9.5,12"/>
<line x1="516.3" y1="751" x2="759.5" y2="751" stroke="#f3d8b0" stroke-width="1.5" stroke-dasharray="9.5,12"/>
<line x1="516.3" y1="763.3" x2="759.5" y2="763.3" stroke="#f3d8b0" stroke-width="1.5" stroke-dasharray="9.5,12"/>
<line x1="516.3" y1="775.7" x2="759.5" y2="775.7" stroke="#f3d8b0" stroke-width="1.5" stroke-dasharray="9.5,12"/>
<line x1="516.3" y1="788" x2="759.5" y2="788" stroke="#f3d8b0" stroke-width="1.5" stroke-dasharray="9.5,12"/>
<rect x="525.2" y="733.8" width="23.399999999999977" height="9.200000000000045" fill="#dd6b67"/>
<rect x="557.8" y="746.5" width="23.0" height="9.299999999999955" fill="#e6a84e"/>
<rect x="597.3" y="733.8" width="23.40000000000009" height="9.200000000000045" fill="#dd6b67"/>
<rect x="631.7" y="758.9" width="23.299999999999955" height="8.899999999999977" fill="#000"/>
<rect x="665.7" y="770.5" width="23.299999999999955" height="9.0" fill="#78b446"/>
<rect x="702.1" y="782.9" width="23.0" height="9.300000000000068" fill="#2a4ea0"/>
<rect x="736.1" y="782.9" width="23.399999999999977" height="9.300000000000068" fill="#2a4ea0"/>
<rect x="516.5" y="803.9" width="243" height="71.8" fill="#c5e0f4"/>
<text x="638" y="833" font-size="21.5" text-anchor="middle" textLength="203" lengthAdjust="spacingAndGlyphs" >Human and mouse</text>
<text x="638" y="859.9" font-size="21.5" text-anchor="middle" textLength="209" lengthAdjust="spacingAndGlyphs" >homologous region</text>
<text x="473.5" y="941.6" font-size="21.5" text-anchor="start" textLength="416.5" lengthAdjust="spacingAndGlyphs" >coPARSE-lncRNA in another vertebrate</text>
<line x1="458" y1="948.7" x2="975.5" y2="948.7" stroke="#999" stroke-width="3"/>
<line x1="601.2" y1="965.4" x2="948.8" y2="965.4" stroke="#c8e0f2" stroke-width="1.5" stroke-dasharray="10,10.6"/>
<line x1="601.2" y1="977.7" x2="948.8" y2="977.7" stroke="#c8e0f2" stroke-width="1.5" stroke-dasharray="10,10.6"/>
<line x1="601.2" y1="990.3" x2="948.8" y2="990.3" stroke="#c8e0f2" stroke-width="1.5" stroke-dasharray="10,10.6"/>
<rect x="620.9" y="960.8" width="22.899999999999977" height="8.600000000000023" fill="#dd6b67"/>
<rect x="670.7" y="960.8" width="23.199999999999932" height="8.600000000000023" fill="#dd6b67"/>
<rect x="756.4" y="973.3" width="23.0" height="9.100000000000023" fill="#000"/>
<rect x="855.8" y="986.2" width="23.5" height="8.5" fill="#2a4ea0"/>
<rect x="914" y="986.2" width="23" height="8.5" fill="#2a4ea0"/>
<text x="820.8" y="774.3" font-size="23" text-anchor="start" textLength="206" lengthAdjust="spacingAndGlyphs" >RNA motif matches</text>
<rect x="848" y="786.1" width="127.6" height="63.2" rx="20" fill="#fff" stroke="#dcdcdc" stroke-width="1.6"/>
<rect x="862" y="799.2" width="22.700000000000045" height="9.399999999999977" fill="#dd6b67"/>
<rect x="895.4" y="799.2" width="22.899999999999977" height="9.399999999999977" fill="#e6a84e"/>
<rect x="929" y="799.2" width="23.200000000000045" height="9.399999999999977" fill="#000"/>
<rect x="862" y="825.7" width="22.700000000000045" height="9.399999999999977" fill="#78b446"/>
<rect x="895.4" y="825.7" width="22.899999999999977" height="9.399999999999977" fill="#2a4ea0"/>
</svg></body></html>
